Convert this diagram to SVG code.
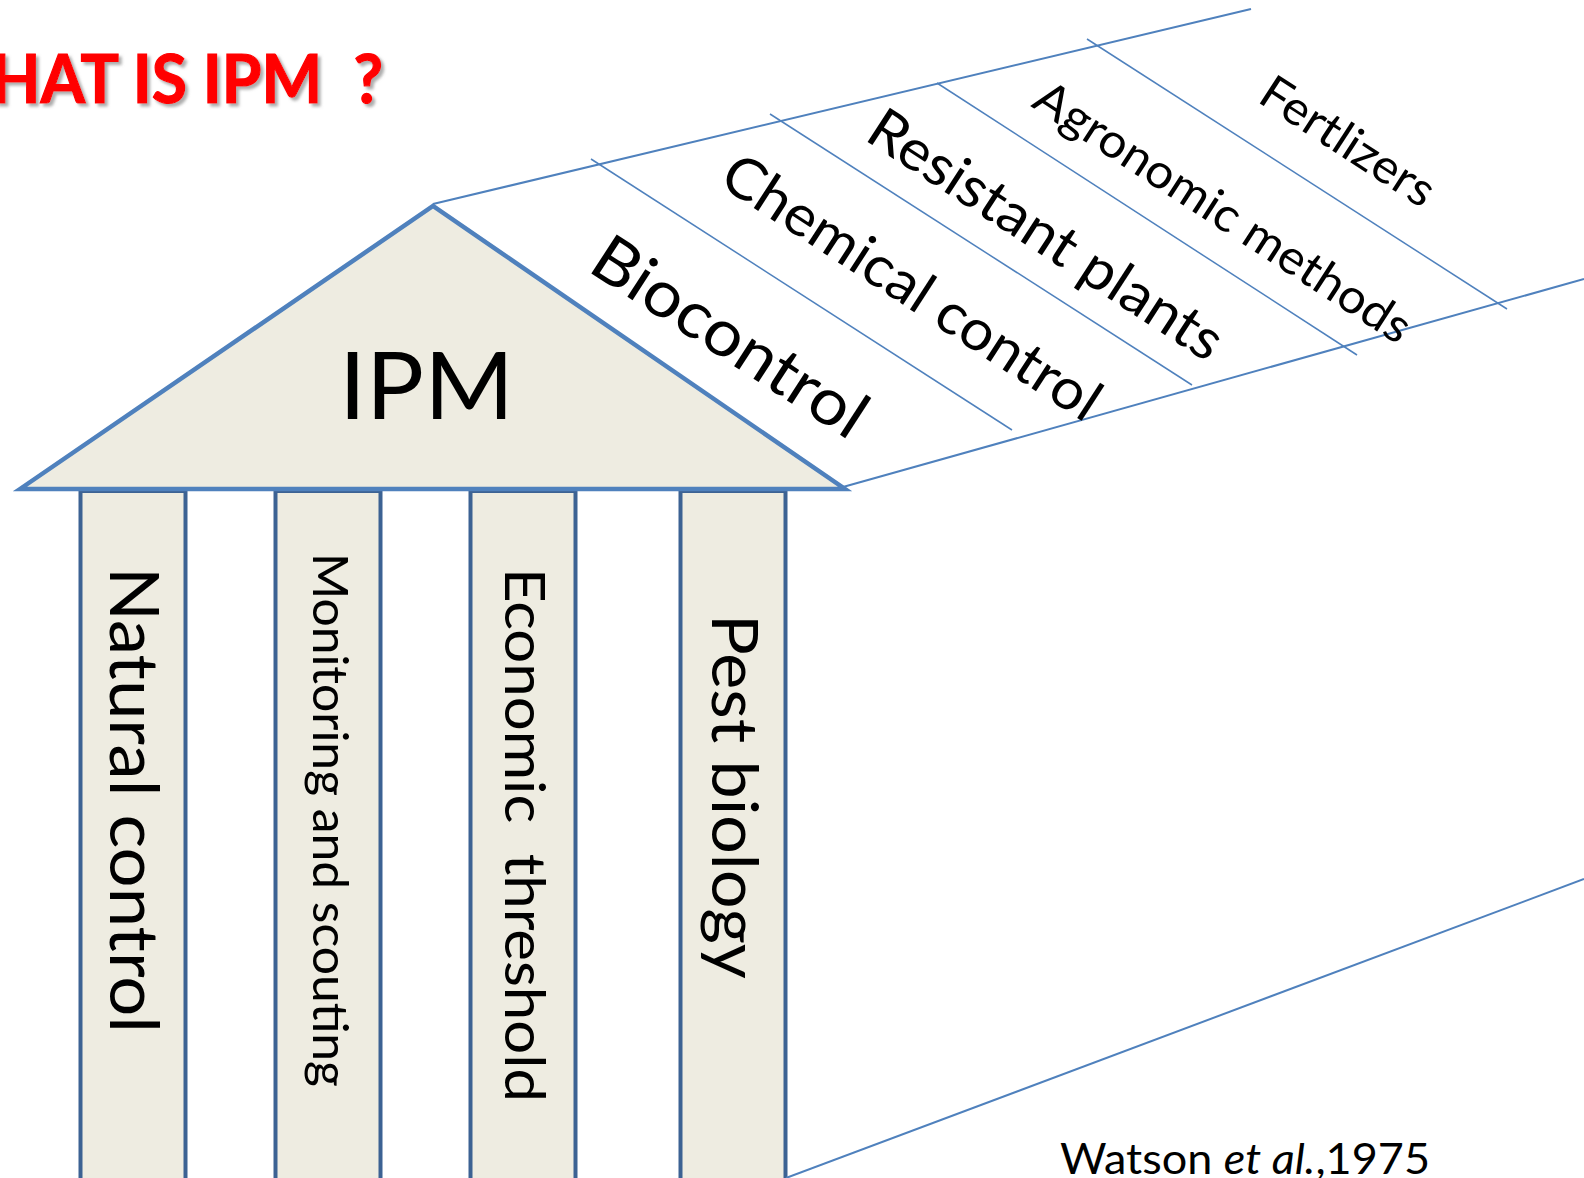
<svg xmlns="http://www.w3.org/2000/svg" width="1584" height="1178" viewBox="0 0 1584 1178">
  <defs>
    <filter id="shadow" x="-10%" y="-20%" width="130%" height="150%">
      <feDropShadow dx="3" dy="3" stdDeviation="1.5" flood-color="#808080" flood-opacity="0.65"/>
    </filter>
  </defs>
  <style>
    text { font-family: "Lato", "Liberation Sans", sans-serif; fill: #000; white-space: pre; }
    .title { font-weight: 700; fill: #FF0000; stroke: #FF0000; stroke-width: 1.2; }
    .pillar { fill: #EEECE1; stroke: #3C6293; stroke-width: 4; }
    .roof { fill: #EEECE1; stroke: #4F81BD; stroke-width: 4.5; stroke-linejoin: miter; stroke-miterlimit: 10; }
    .edge { stroke: #4F81BD; stroke-width: 2; fill: none; }
    .tick { stroke: #4F81BD; stroke-width: 1.5; fill: none; }
  </style>
  <rect width="1584" height="1178" fill="#FFFFFF"/>

  <g id="title">
    <text class="title" x="-9" y="103" font-size="67" textLength="392" lengthAdjust="spacingAndGlyphs" xml:space="preserve" filter="url(#shadow)">HAT IS IPM  ?</text>
  </g>

  <g id="pillar-natural-control">
    <rect class="pillar" x="80.5" y="491" width="105" height="700"/>
    <text transform="translate(110,567) rotate(90)" font-size="67" textLength="466" lengthAdjust="spacingAndGlyphs">Natural control</text>
  </g>
  <g id="pillar-monitoring">
    <rect class="pillar" x="275.5" y="491" width="105" height="700"/>
    <text transform="translate(313,553) rotate(90)" font-size="47.5" textLength="534" lengthAdjust="spacingAndGlyphs">Monitoring and scouting</text>
  </g>
  <g id="pillar-economic-threshold">
    <rect class="pillar" x="470.5" y="491" width="105" height="700"/>
    <text transform="translate(505,568) rotate(90)" font-size="57" textLength="534" lengthAdjust="spacingAndGlyphs" xml:space="preserve">Economic  threshold</text>
  </g>
  <g id="pillar-pest-biology">
    <rect class="pillar" x="680.5" y="491" width="105" height="700"/>
    <text transform="translate(712,614) rotate(90)" font-size="64" textLength="365" lengthAdjust="spacingAndGlyphs">Pest biology</text>
  </g>

  <g id="ipm-roof">
    <polygon class="roof" points="20,489 433,206 845,489"/>
    <text x="339" y="419" font-size="93.5" textLength="175" lengthAdjust="spacingAndGlyphs">IPM</text>
  </g>

  <g id="connectors">
    <line class="edge" x1="433" y1="204" x2="1251" y2="9"/>
    <line class="edge" x1="843" y1="487" x2="1584" y2="279"/>
    <line class="edge" x1="786" y1="1178" x2="1584" y2="879"/>
    <line class="tick" x1="591" y1="159" x2="1012" y2="430"/>
    <line class="tick" x1="770" y1="114" x2="1192" y2="385"/>
    <line class="tick" x1="937" y1="83" x2="1357" y2="355"/>
    <line class="tick" x1="1087" y1="39" x2="1507" y2="309"/>
  </g>

  <g id="band-biocontrol">
    <text transform="translate(586,270) rotate(33)" font-size="65" textLength="314" lengthAdjust="spacingAndGlyphs">Biocontrol</text>
  </g>
  <g id="band-chemical-control">
    <text transform="translate(717,184) rotate(33)" font-size="57" textLength="439" lengthAdjust="spacingAndGlyphs">Chemical control</text>
  </g>
  <g id="band-resistant-plants">
    <text transform="translate(863,139) rotate(33)" font-size="57" textLength="411" lengthAdjust="spacingAndGlyphs">Resistant plants</text>
  </g>
  <g id="band-agronomic-methods">
    <text transform="translate(1030,106) rotate(33)" font-size="47.5" textLength="439" lengthAdjust="spacingAndGlyphs">Agronomic methods</text>
  </g>
  <g id="band-fertilizers">
    <text transform="translate(1256,101) rotate(33)" font-size="47.5" textLength="198" lengthAdjust="spacingAndGlyphs">Fertlizers</text>
  </g>

  <g id="citation">
    <text x="1060" y="1174" font-size="43" textLength="370" lengthAdjust="spacingAndGlyphs" xml:space="preserve">Watson <tspan font-style="italic">et al.</tspan>,1975</text>
  </g>
</svg>
